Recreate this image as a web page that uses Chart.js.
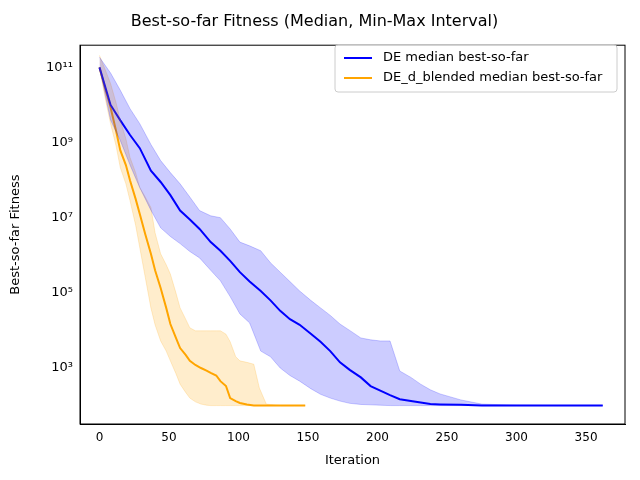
<!DOCTYPE html>
<html>
<head>
<meta charset="utf-8">
<script src="https://cdn.jsdelivr.net/npm/chart.js@4/dist/chart.umd.min.js"></script>
<style>
    html, body { margin: 0; padding: 0; background: #fff; }
    #wrap { width: 640px; height: 480px; }
</style>
</head>
<body>
<div id="wrap"><canvas id="chart"></canvas></div>
<script>

// values, as log10 of the fitness
const deIter      = [ 0, 8, 15, 22, 29, 37, 44, 51, 58, 65, 72, 80, 87, 94, 101, 108, 116, 123, 130, 137, 144, 152, 159, 166, 173, 180, 188, 195, 202, 209, 216, 224, 231, 238, 245, 260, 275, 300, 330, 362 ];
const deMedian    = [ 11.0, 10.0, 9.59, 9.2, 8.85, 8.25, 7.95, 7.6, 7.19, 6.95, 6.7, 6.35, 6.12, 5.85, 5.55, 5.3, 5.05, 4.8, 4.52, 4.3, 4.15, 3.91, 3.7, 3.45, 3.15, 2.95, 2.75, 2.52, 2.4, 2.28, 2.17, 2.12, 2.08, 2.04, 2.03, 2.02, 2.0, 2.0, 2.0, 2.0 ];
const deUpper     = [ 11.27, 10.85, 10.39, 9.9, 9.5, 8.95, 8.52, 8.2, 7.9, 7.55, 7.19, 7.05, 7.0, 6.7, 6.35, 6.25, 6.12, 5.8, 5.55, 5.3, 5.05, 4.8, 4.6, 4.4, 4.17, 4.0, 3.8, 3.75, 3.72, 3.72, 2.92, 2.75, 2.57, 2.42, 2.31, 2.15, 2.04, 2.01, 2.0, 2.0 ];
const deLower     = [ 11.0, 9.6, 9.05, 8.4, 7.8, 7.2, 6.73, 6.5, 6.31, 6.1, 5.93, 5.6, 5.32, 4.9, 4.44, 4.2, 3.45, 3.3, 3.0, 2.8, 2.65, 2.45, 2.3, 2.2, 2.12, 2.06, 2.03, 2.02, 2.01, 2.0, 2.0, 2.0, 2.0, 2.0, 2.0, 2.0, 2.0, 2.0, 2.0, 2.0 ];

const dbIter      = [ 0, 4, 8, 12, 15, 19, 22, 26, 29, 33, 37, 40, 44, 48, 51, 55, 58, 62, 65, 69, 73, 77, 80, 84, 87, 91, 94, 98, 101, 106, 111, 115, 120, 130, 140, 148 ];
const dbMedian    = [ 11.0, 10.45, 9.93, 9.3, 8.79, 8.4, 7.99, 7.5, 7.1, 6.55, 6.04, 5.6, 5.13, 4.6, 4.17, 3.8, 3.53, 3.35, 3.19, 3.08, 3.0, 2.93, 2.87, 2.8, 2.65, 2.52, 2.2, 2.12, 2.07, 2.03, 2.0, 2.0, 2.0, 2.0, 2.0, 2.0 ];
const dbUpper     = [ 11.32, 10.95, 10.57, 10.05, 9.59, 9.1, 8.6, 8.2, 7.8, 7.55, 7.27, 6.6, 6.04, 5.75, 5.5, 5.0, 4.6, 4.3, 4.07, 3.99, 3.99, 3.99, 3.99, 3.99, 3.99, 3.9, 3.7, 3.3, 3.19, 3.15, 3.1, 2.47, 2.04, 2.0, 2.0, 2.0 ];
const dbLower     = [ 11.0, 10.2, 9.5, 8.9, 8.33, 7.9, 7.45, 6.8, 6.2, 5.4, 4.6, 4.15, 3.72, 3.45, 3.19, 2.85, 2.57, 2.35, 2.2, 2.1, 2.04, 2.01, 2.0, 2.0, 2.0, 2.0, 2.0, 2.0, 2.0, 2.0, 2.0, 2.0, 2.0, 2.0, 2.0, 2.0 ];

const yTickExp = [ 3, 5, 7, 9, 11 ];
const xTicks = [ 0, 50, 100, 150, 200, 250, 300, 350 ];

const sup = { '0': '⁰', '1': '¹', '2': '²', '3': '³', '4': '⁴', '5': '⁵', '6': '⁶', '7': '⁷', '8': '⁸', '9': '⁹' };
const toSup = n => String( n ).split( '' ).map( c => sup[ c ] ).join( '' );

const pts = ( xs, es ) => xs.map( ( x, i ) => ( { x, y: Math.pow( 10, es[ i ] ) } ) );

const bandStyle = ( color, fill ) => ( {
    borderColor: color, backgroundColor: color, borderWidth: 1,
    pointRadius: 0, fill
} );

const frameAndLegend = {
    id: 'frameAndLegend',
    afterDraw ( chart ) {
        const { ctx, chartArea: a } = chart;
        ctx.save();
        ctx.strokeStyle = '#000';
        ctx.lineWidth = 1;
        ctx.strokeRect( a.left, a.top, a.right - a.left, a.bottom - a.top );

        const items = chart.data.datasets.filter( d => d.showInLegend );
        const bx = 335, by = 45, bw = 282, bh = 47;
        ctx.fillStyle = 'rgba(255,255,255,0.8)';
        ctx.strokeStyle = '#ccc';
        ctx.beginPath();
        ctx.roundRect( bx, by, bw, bh, 3 );
        ctx.fill();
        ctx.stroke();
        ctx.font = '13px "DejaVu Sans"';
        ctx.textBaseline = 'middle';
        items.forEach( ( d, i ) => {
            const y = by + 13 + i * 20;
            ctx.strokeStyle = d.borderColor;
            ctx.lineWidth = 2;
            ctx.beginPath();
            ctx.moveTo( bx + 9, y );
            ctx.lineTo( bx + 37, y );
            ctx.stroke();
            ctx.fillStyle = '#000';
            ctx.fillText( d.label, bx + 48, y );
        } );
        ctx.restore();
    }
};

new Chart( document.getElementById( 'chart' ), {
    type: 'line',
    data: {
        datasets: [
            { data: pts( deIter, deUpper ), ...bandStyle( 'rgba(0,0,255,0.2)', '+1' ) },
            { data: pts( deIter, deLower ), ...bandStyle( 'rgba(0,0,255,0.2)', false ) },
            { data: pts( dbIter, dbUpper ), ...bandStyle( 'rgba(255,165,0,0.2)', '+1' ) },
            { data: pts( dbIter, dbLower ), ...bandStyle( 'rgba(255,165,0,0.2)', false ) },
            { data: pts( deIter, deMedian ), label: 'DE median best-so-far', showInLegend: true,
              borderColor: '#0000ff', borderWidth: 2, pointRadius: 0, fill: false },
            { data: pts( dbIter, dbMedian ), label: 'DE_d_blended median best-so-far', showInLegend: true,
              borderColor: '#ffa500', borderWidth: 2, pointRadius: 0, fill: false }
        ]
    },
    options: {
        responsive: true,
        maintainAspectRatio: false,
        animation: false,
        layout: { padding: { top: 0, right: 15, bottom: 8, left: 4 } },
        plugins: {
            legend: { display: false },
            tooltip: { enabled: false },
            title: {
                display: true,
                text: 'Best-so-far Fitness (Median, Min-Max Interval)',
                color: '#000',
                font: { family: 'DejaVu Sans', size: 16, weight: 'normal' },
                padding: { top: 12, bottom: 14 }
            }
        },
        scales: {
            x: {
                type: 'linear',
                min: -14, max: 378,
                afterBuildTicks: s => { s.ticks = xTicks.map( v => ( { value: v } ) ); },
                grid: { display: false, drawTicks: true, tickLength: 4, color: '#000' },
                border: { color: '#000' },
                ticks: { color: '#000', font: { family: 'DejaVu Sans', size: 12 } },
                title: { display: true, text: 'Iteration', color: '#000', font: { family: 'DejaVu Sans', size: 13 } }
            },
            y: {
                type: 'logarithmic',
                min: Math.pow( 10, 1.51 ), max: Math.pow( 10, 11.59 ),
                afterBuildTicks: s => { s.ticks = yTickExp.map( e => ( { value: Math.pow( 10, e ) } ) ); },
                afterFit: s => { s.width = 76; },
                grid: { display: false, drawTicks: true, tickLength: 4, color: '#000' },
                border: { color: '#000' },
                ticks: {
                    color: '#000',
                    font: { family: 'DejaVu Sans', size: 13 },
                    callback: v => '10' + toSup( Math.round( Math.log10( v ) ) )
                },
                title: { display: true, text: 'Best-so-far Fitness', color: '#000', font: { family: 'DejaVu Sans', size: 13 } }
            }
        }
    },
    plugins: [ frameAndLegend ]
} );

</script>
</body>
</html>
